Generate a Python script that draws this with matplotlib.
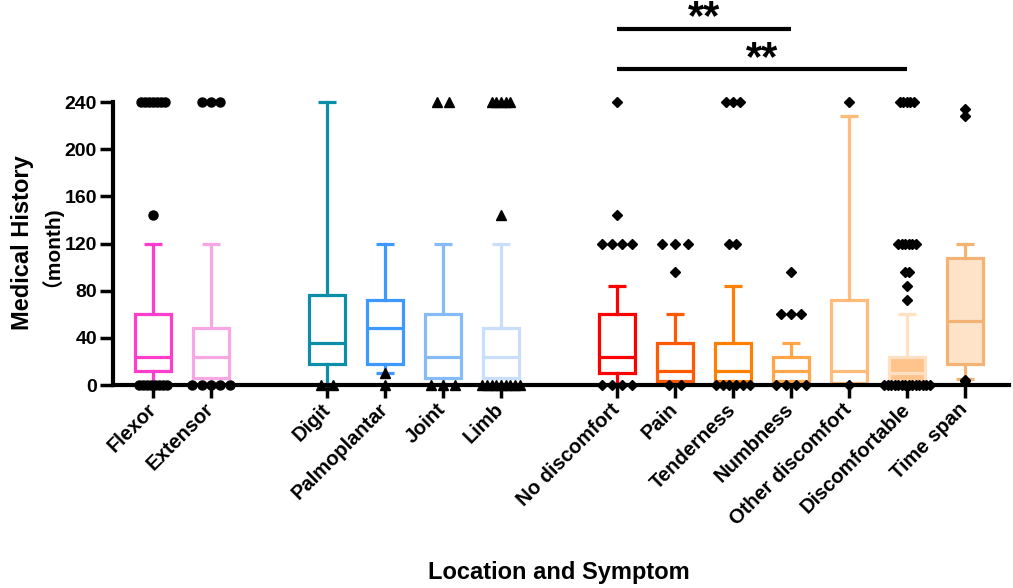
import numpy as np
import matplotlib
matplotlib.use("Agg")
import matplotlib.pyplot as plt

plt.rcParams['font.family'] = ['Liberation Sans', 'Noto Sans CJK SC', 'DejaVu Sans']
plt.rcParams['font.weight'] = 'bold'

# groups and box statistics (months)
labels = ["Flexor", "Extensor", "Digit", "Palmoplantar", "Joint", "Limb",
          "No discomfort", "Pain", "Tenderness", "Numbness", "Other discomfort",
          "Discomfortable", "Time span"]
positions = [0, 1, 3, 4, 5, 6, 8, 9, 10, 11, 12, 13, 14]
whislo = [0, 0, 0, 10, 0, 0, 0, 0, 0, 0, 0, 0, 5]
q1 = [12, 6, 18, 18, 6, 6, 10, 3, 3, 3, 2, 3, 18]
med = [24, 24, 36, 48, 24, 24, 24, 12, 12, 12, 12, 10, 54]
q3 = [60, 48, 76, 72, 60, 48, 60, 36, 36, 24, 72, 24, 108]
whishi = [120, 120, 240, 120, 120, 120, 84, 60, 84, 36, 228, 60, 120]

# points outside the whiskers
outliers = [
    [240, 240, 240, 240, 240, 240, 240, 144, 0, 0, 0, 0, 0, 0, 0, 0],
    [240, 240, 240, 0, 0, 0, 0, 0],
    [0, 0],
    [10, 0],
    [240, 240, 0, 0, 0],
    [240, 240, 240, 240, 240, 144, 0, 0, 0, 0, 0, 0, 0, 0, 0],
    [240, 144, 120, 120, 120, 120, 0, 0, 0, 0],
    [120, 120, 120, 96, 0, 0],
    [240, 240, 240, 120, 120, 0, 0, 0, 0, 0, 0],
    [96, 60, 60, 60, 0, 0, 0, 0],
    [240, 0],
    [240, 240, 240, 240, 240, 120, 120, 120, 120, 120, 120, 96, 96, 84, 72,
     0, 0, 0, 0, 0, 0, 0, 0, 0, 0, 0, 0, 0, 0],
    [234, 228, 4, 3],
]

# comparisons: (group a, group b, label)
comparisons = [(6, 9, "**"), (6, 11, "**")]
sig_bar_y = [302, 268]
sig_text_y = [302, 267]

edge_colors = ["#ff3dcc", "#f7a8e4", "#0b8fa8", "#3d99ff", "#85bbf6", "#c8defa",
               "#ff0000", "#ff5a00", "#ff8000", "#ffa54a", "#ffbb7a", "#ffe0c2",
               "#f2b374"]
face_colors = ["white"] * 11 + ["#ffc48c", "#fee3c9"]
markers = ["o", "o", "^", "^", "^", "^", "D", "D", "D", "D", "D", "D", "D"]
spacing = [0.07, 0.16, 0.2, 0.2, 0.2, 0.08, 0.17, 0.22, 0.12, 0.17, 0.2, 0.06, 0.12]

fig = plt.figure(figsize=(10.13, 5.88), dpi=100)
ax = fig.add_axes([113 / 1013, 1 - 385 / 588, 896 / 1013, 283 / 588])

stats = []
for i in range(len(labels)):
    stats.append({"med": med[i], "q1": q1[i], "q3": q3[i],
                  "whislo": whislo[i], "whishi": whishi[i], "fliers": []})

lw = 2.3
bp = ax.bxp(stats, positions=positions, widths=0.63, capwidths=0.3,
            patch_artist=True, showfliers=False)
for i, c in enumerate(edge_colors):
    box = bp["boxes"][i]
    box.set_facecolor(face_colors[i])
    box.set_edgecolor(c)
    box.set_linewidth(lw)
    box.set_clip_on(False)
    bp["medians"][i].set(color=c, linewidth=lw, clip_on=False)
    for k in (2 * i, 2 * i + 1):
        bp["whiskers"][k].set(color=c, linewidth=lw, clip_on=False)
        bp["caps"][k].set(color=c, linewidth=lw, clip_on=False, solid_capstyle="butt")

# outliers, side by side where they overlap
for i, vals in enumerate(outliers):
    vals = np.array(vals)
    for v in np.unique(vals):
        n = int((vals == v).sum())
        offs = (np.arange(n) - (n - 1) / 2) * spacing[i]
        ms = 4.8 if markers[i] == "D" else 6.5
        ax.plot(positions[i] + offs, np.full(n, v), linestyle="none",
                marker=markers[i], markersize=ms,
                color="black", clip_on=False, zorder=5)

ax.set_xlim(-0.69, 14.76)
ax.set_ylim(0, 240)
ax.set_yticks([0, 40, 80, 120, 160, 200, 240])
ax.set_xticks(positions)
ax.set_xticklabels(labels, rotation=45, ha="right", va="center",
                   rotation_mode="anchor", fontsize=14.5, fontweight="bold")
for t in ax.get_yticklabels():
    t.set_fontsize(14)
    t.set_fontweight("bold")
ax.tick_params(axis="both", length=9.5, width=2.5, colors="black")
ax.tick_params(axis="x", pad=6)
ax.tick_params(axis="y", pad=2)
for s in ("top", "right"):
    ax.spines[s].set_visible(False)
for s in ("left", "bottom"):
    ax.spines[s].set_linewidth(3)

# significance bars
for (a, b, txt), ybar, ystar in zip(comparisons, sig_bar_y, sig_text_y):
    ax.plot([positions[a], positions[b]], [ybar, ybar], color="black",
            linewidth=3, clip_on=False, solid_capstyle="butt")
    ax.text((positions[a] + positions[b]) / 2, ystar, txt, ha="center", va="baseline",
            fontsize=30, fontweight="bold", clip_on=False)

fig.text(22 / 1013, 1 - 243 / 588, "Medical History", rotation=90, ha="center",
         va="center", fontsize=17, fontweight="bold")
fig.text(40 / 1013, 1 - 241 / 588, "（month)", rotation=90, ha="center",
         va="center", fontsize=15, fontweight="bold")
fig.text(559 / 1013, 1 - 572 / 588, "Location and Symptom", ha="center",
         va="center", fontsize=17, fontweight="bold")

fig.savefig("out.png", dpi=100)
